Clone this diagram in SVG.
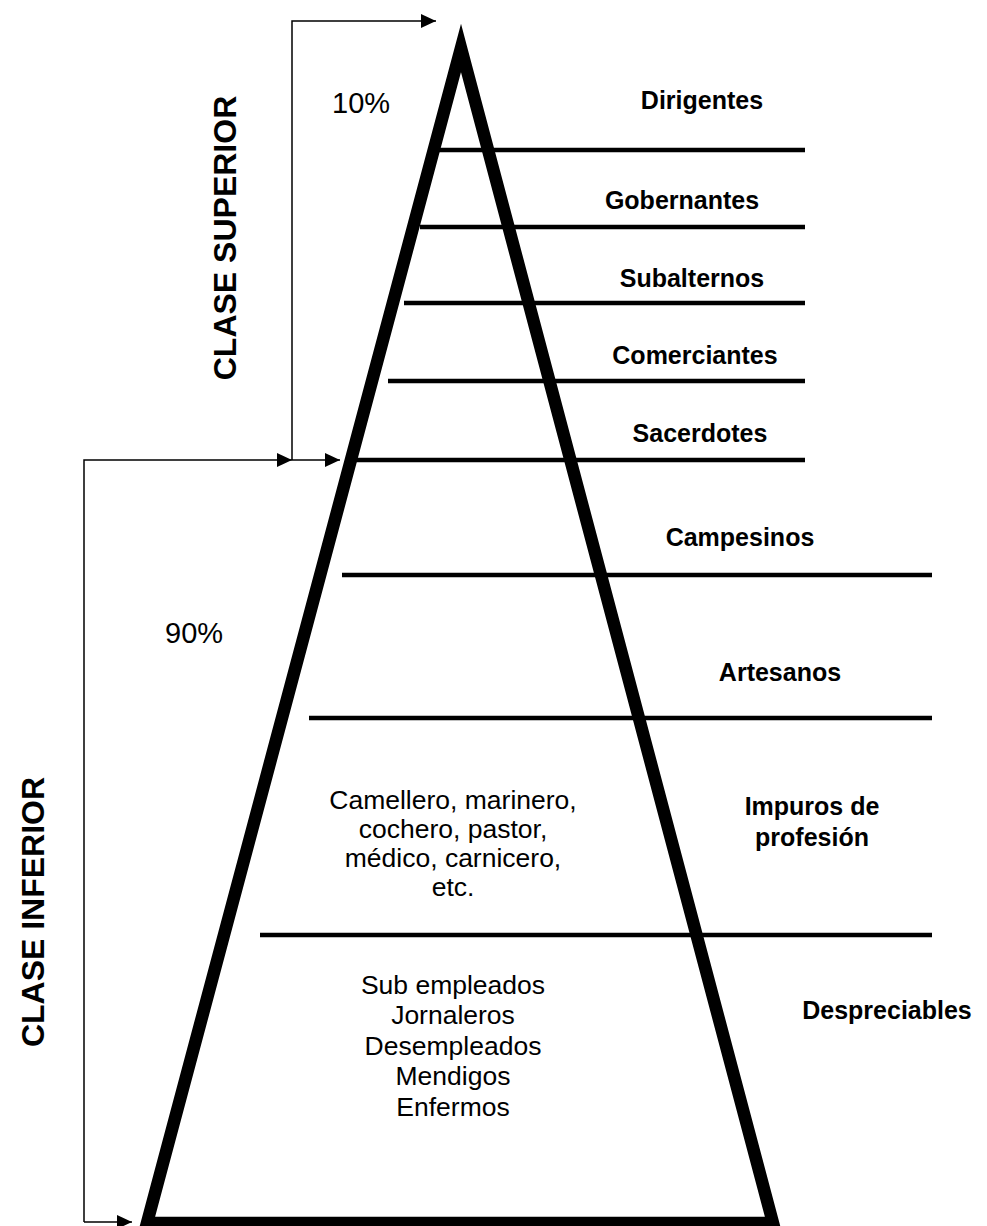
<svg xmlns="http://www.w3.org/2000/svg" width="987" height="1226" viewBox="0 0 987 1226">
<style>
.lbl{font-family:"Liberation Sans",Arial,sans-serif;font-weight:bold;font-size:25px;fill:#000;text-anchor:middle}
.body{font-family:"Liberation Sans",Arial,sans-serif;font-size:26.5px;fill:#000;text-anchor:middle}
.pct{font-family:"Liberation Sans",Arial,sans-serif;font-size:29px;fill:#000}
.cls{font-family:"Liberation Sans",Arial,sans-serif;font-weight:bold;font-size:32px;fill:#000;text-anchor:middle}
.tier{stroke:#000;stroke-width:4.5;fill:none}
.conn{stroke:#000;stroke-width:1.5;fill:none}
</style>
<defs>
<marker id="ah" markerUnits="userSpaceOnUse" markerWidth="16" markerHeight="15" refX="15" refY="7" orient="auto">
<path d="M0,0 L15,7 L0,14 Z" fill="#000"/>
</marker>
</defs>
<rect width="987" height="1226" fill="#fff"/>
<g id="pyramid">
<polygon points="461,48 773,1223 147,1223" fill="none" stroke="#000" stroke-width="12.5" stroke-linejoin="miter" stroke-miterlimit="10"/>
</g>
<g id="tiers">
<line class="tier" x1="435" y1="150" x2="805" y2="150"/>
<line class="tier" x1="420" y1="227" x2="805" y2="227"/>
<line class="tier" x1="404" y1="303" x2="805" y2="303"/>
<line class="tier" x1="388" y1="381" x2="805" y2="381"/>
<line class="tier" x1="355" y1="460" x2="805" y2="460"/>
<line class="tier" x1="342" y1="575" x2="932" y2="575"/>
<line class="tier" x1="309" y1="718" x2="932" y2="718"/>
<line class="tier" x1="260" y1="935" x2="932" y2="935"/>
</g>
<g id="connectors">
<path class="conn" d="M292,460 L292,21 L436,21" marker-end="url(#ah)"/>
<path class="conn" d="M292,460 L340,460" marker-end="url(#ah)"/>
<path class="conn" d="M84,1222 L84,460 L292,460" marker-end="url(#ah)"/>
<path class="conn" d="M84,1222 L132,1222" marker-end="url(#ah)"/>
</g>
<g id="clase-superior"><text class="cls" transform="translate(236,238) rotate(-90)">CLASE SUPERIOR</text></g>
<g id="clase-inferior"><text class="cls" transform="translate(44,912) rotate(-90)">CLASE INFERIOR</text></g>
<g id="pct-10"><text class="pct" x="332" y="113">10%</text></g>
<g id="pct-90"><text class="pct" x="165" y="643">90%</text></g>
<g id="dirigentes"><text class="lbl" x="702" y="109">Dirigentes</text></g>
<g id="gobernantes"><text class="lbl" x="682" y="209">Gobernantes</text></g>
<g id="subalternos"><text class="lbl" x="692" y="287">Subalternos</text></g>
<g id="comerciantes"><text class="lbl" x="695" y="364">Comerciantes</text></g>
<g id="sacerdotes"><text class="lbl" x="700" y="442">Sacerdotes</text></g>
<g id="campesinos"><text class="lbl" x="740" y="546">Campesinos</text></g>
<g id="artesanos"><text class="lbl" x="780" y="681">Artesanos</text></g>
<g id="impuros"><text class="lbl" x="812" y="815">Impuros de</text><text class="lbl" x="812" y="846">profesión</text></g>
<g id="impuros-ejemplos"><text class="body" x="453" y="809">Camellero, marinero,</text><text class="body" x="453" y="838">cochero, pastor,</text><text class="body" x="453" y="867">médico, carnicero,</text><text class="body" x="453" y="896">etc.</text></g>
<g id="despreciables"><text class="lbl" x="887" y="1019">Despreciables</text></g>
<g id="despreciables-ejemplos"><text class="body" x="453" y="994">Sub empleados</text><text class="body" x="453" y="1024">Jornaleros</text><text class="body" x="453" y="1055">Desempleados</text><text class="body" x="453" y="1085">Mendigos</text><text class="body" x="453" y="1116">Enfermos</text></g>
</svg>
